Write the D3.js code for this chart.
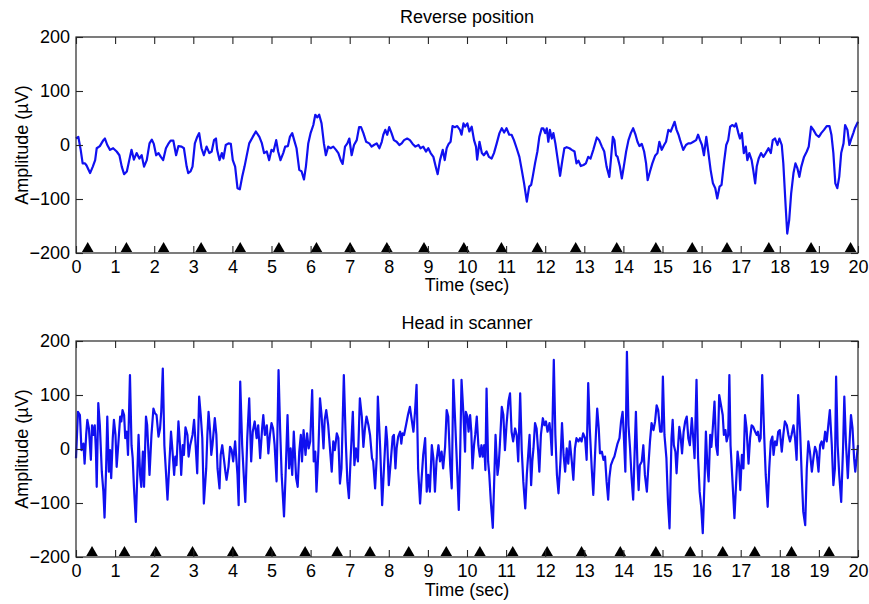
<!DOCTYPE html>
<html>
<head>
<meta charset="utf-8">
<script src="https://cdn.jsdelivr.net/npm/d3@7"></script>
<style>
  body { margin: 0; background: #fff; }
  text { font-family: "Liberation Sans", Arial, Helvetica, sans-serif; fill: #000; }
</style>
</head>
<body>
<svg id="chart" width="869" height="604"></svg>
<script>
// ---- Recording: reverse position (time in s, amplitude in µV) ----
const topTime = [0,0.06,0.12,0.17,0.23,0.27,0.36,0.43,0.49,0.53,0.61,0.70,0.74,0.80,0.87,0.95,1.04,1.11,1.17,1.23,1.30,1.38,1.42,1.48,1.55,1.62,1.68,1.74,1.81,1.88,1.94,1.99,2.05,2.11,2.17,2.23,2.30,2.36,2.42,2.49,2.56,2.62,2.70,2.76,2.83,2.87,2.93,2.98,3.04,3.10,3.15,3.21,3.27,3.34,3.41,3.47,3.53,3.58,3.61,3.67,3.73,3.77,3.83,3.90,3.96,4.01,4.07,4.13,4.19,4.25,4.31,4.36,4.43,4.52,4.60,4.69,4.75,4.81,4.88,4.94,5.00,5.05,5.12,5.17,5.23,5.30,5.35,5.42,5.47,5.53,5.58,5.64,5.71,5.77,5.83,5.88,5.94,6.00,6.07,6.12,6.17,6.22,6.28,6.34,6.39,6.45,6.51,6.58,6.65,6.71,
  6.77,6.82,6.88,6.94,6.99,7.05,7.11,7.18,7.24,7.29,7.35,7.42,7.50,7.56,7.62,7.69,7.76,7.82,7.86,7.91,7.96,8.01,8.07,8.13,8.20,8.27,8.33,8.39,8.47,8.54,8.61,8.68,8.76,8.81,8.88,8.95,9.01,9.07,9.14,9.21,9.25,9.31,9.38,9.43,9.48,9.53,9.58,9.63,9.69,9.75,9.82,9.86,9.91,9.95,10.01,10.06,10.12,10.18,10.23,10.26,10.32,10.38,10.43,10.50,10.56,10.63,10.69,10.76,10.83,10.89,10.95,11.01,11.08,11.14,11.20,11.27,11.34,11.40,11.46,11.53,11.59,11.64,11.68,11.74,11.80,11.85,11.91,11.95,12.00,12.04,12.08,12.12,12.17,12.21,12.26,12.31,12.38,12.44,12.49,12.55,12.62,12.68,12.75,12.80,12.85,12.91,12.98,13.04,13.10,13.16,13.23,13.32,13.38,13.45,13.51,13.57,13.64,
  13.68,13.73,13.77,13.81,13.85,13.91,13.96,14.01,14.07,14.13,14.19,14.25,14.31,14.36,14.41,14.47,14.53,14.58,14.62,14.68,14.74,14.81,14.87,14.92,14.98,15.04,15.09,15.15,15.21,15.26,15.31,15.36,15.41,15.45,15.49,15.53,15.60,15.66,15.72,15.79,15.86,15.91,15.96,16.01,16.06,16.12,16.17,16.23,16.29,16.35,16.40,16.46,16.51,16.57,16.63,16.68,16.73,16.79,16.84,16.88,16.94,16.98,17.03,17.08,17.13,17.17,17.22,17.28,17.32,17.37,17.41,17.46,17.52,17.58,17.64,17.71,17.77,17.82,17.88,17.94,17.99,18.05,18.09,18.15,18.19,18.24,18.29,18.35,18.40,18.45,18.50,18.55,18.62,18.69,18.74,18.80,18.86,18.93,19.00,19.06,19.13,19.20,19.27,19.32,19.37,19.42,19.47,19.52,19.57,19.63,19.67,19.73,19.78,19.83,19.88,19.92,20.00];
const topAmp = [12,15,-9,-34,-34,-38,-52,-40,-28,-6,-2,9,12,0,-9,-6,-12,-19,-40,-54,-49,-22,-9,-27,-15,-25,-19,-40,-28,3,10,2,-19,-15,-22,-28,-6,2,8,8,-19,-2,-3,-6,-40,-52,-49,-40,3,15,22,-6,-19,-3,-15,-12,9,12,-9,-28,-15,-25,0,3,2,-28,-40,-80,-82,-59,-40,-22,3,15,25,15,4,-15,-12,-28,-9,-12,9,-12,-28,-15,-3,-2,15,22,9,-6,-46,-49,-64,-40,3,22,37,56,51,56,40,3,-19,-3,-6,-3,-9,-15,
  -28,-35,-3,3,12,-19,0,9,33,33,22,6,3,-3,0,3,-6,6,19,28,19,33,22,9,6,0,3,9,12,9,2,-3,0,-6,-3,-12,-6,-15,-22,-43,-54,-28,-9,-28,-6,2,6,35,33,35,28,19,40,34,40,25,34,9,-3,-27,6,-15,-19,-12,-22,-25,-15,3,22,31,23,31,19,19,9,-6,-22,-46,-71,-105,-77,-74,-59,-34,-12,15,31,31,22,31,6,28,12,22,3,-22,-57,-28,-6,-4,-6,-9,-12,-34,-29,-39,-37,-34,-22,-25,-9,14,9,-3,-12,-40,-59,
  -28,15,9,-19,-22,-40,-62,-40,-12,9,22,31,19,6,-2,2,-12,-34,-65,-49,-34,-20,-15,6,-9,0,6,28,25,34,43,28,19,9,0,-9,0,3,3,6,9,19,9,0,-19,15,-12,-46,-71,-80,-99,-77,-74,-34,0,9,34,37,34,40,22,12,22,-15,-3,-28,-15,-28,-46,-71,-40,-25,-15,-22,-15,-6,-15,9,12,0,12,0,-34,-114,-164,-139,-90,-52,-34,-43,-59,-40,-22,-12,-3,34,28,19,15,22,28,35,35,19,-15,-71,-80,-59,-15,3,37,28,0,12,22,31,43];
const topMarkers = [0.30,1.29,2.24,3.20,4.20,5.19,6.15,7.01,7.95,8.90,9.92,10.88,11.80,12.78,13.83,14.83,15.76,16.65,17.72,18.80,19.81];

// ---- Recording: head in scanner ----
const bottomTime = [0,0.05,0.10,0.14,0.19,0.22,0.26,0.29,0.33,0.38,0.41,0.44,0.48,0.51,0.53,0.57,0.61,0.66,0.70,0.73,0.77,0.80,0.84,0.87,0.90,0.94,0.97,1.01,1.04,1.08,1.13,1.16,1.19,1.23,1.26,1.30,1.33,1.38,1.42,1.45,1.48,1.53,1.57,1.60,1.64,1.67,1.71,1.74,1.79,1.82,1.88,1.93,1.98,2.02,2.06,2.11,2.15,2.18,2.22,2.26,2.30,2.34,2.39,2.43,2.46,2.51,2.54,2.57,2.62,2.66,2.69,2.73,2.76,2.80,2.85,2.88,2.92,2.98,3.02,3.05,3.10,3.15,3.19,3.23,3.27,
  3.33,3.36,3.39,3.43,3.46,3.49,3.55,3.59,3.62,3.67,3.70,3.74,3.79,3.82,3.85,3.90,3.94,3.98,4.02,4.07,4.13,4.16,4.20,4.25,4.29,4.33,4.38,4.43,4.48,4.52,4.57,4.62,4.66,4.71,4.76,4.79,4.83,4.88,4.92,4.96,5.00,5.04,5.08,5.13,5.18,5.22,5.26,5.32,5.36,5.41,5.45,5.49,5.53,5.57,5.63,5.67,5.71,5.75,5.78,5.82,5.87,5.91,5.95,5.99,6.04,6.08,6.12,6.15,6.20,6.24,6.28,6.33,6.36,6.40,6.45,
  6.54,6.58,6.62,6.67,6.71,6.75,6.79,6.85,6.90,6.94,6.98,7.02,7.08,7.12,7.16,7.21,7.26,7.31,7.35,7.39,7.43,7.48,7.52,7.57,7.60,7.65,7.69,7.72,7.78,7.83,7.88,7.93,7.96,8.00,8.05,8.10,8.13,8.17,8.20,8.24,8.29,8.32,8.35,8.39,8.44,8.49,8.54,8.58,8.63,8.67,8.71,8.75,8.80,8.84,8.88,8.93,8.97,9.01,9.05,9.10,9.14,9.18,9.22,9.27,9.31,9.35,9.39,9.44,9.48,9.52,9.57,9.61,9.65,9.69,9.74,9.79,9.82,
  9.86,9.91,9.95,9.97,10.01,10.04,10.08,10.11,10.14,10.18,10.21,10.25,10.29,10.33,10.37,10.40,10.44,10.47,10.50,10.54,10.57,10.61,10.66,10.70,10.73,10.78,10.81,10.84,10.89,10.93,10.97,11.01,11.06,11.10,11.14,11.18,11.23,11.27,11.31,11.36,11.40,11.44,11.49,11.53,11.57,11.60,11.64,11.67,11.70,11.74,11.78,11.82,11.85,11.89,11.94,11.98,12.02,12.06,12.11,12.14,12.17,12.22,12.26,12.30,12.34,12.39,12.43,12.47,12.51,12.55,12.59,12.63,12.68,12.72,12.76,12.80,12.85,12.89,12.93,12.97,13.02,13.06,13.10,13.14,13.19,13.23,
  13.30,13.33,13.37,13.40,13.45,13.49,13.53,13.57,13.61,13.64,13.68,13.73,13.77,13.81,13.85,13.90,13.94,13.98,14.01,14.05,14.09,14.13,14.17,14.21,14.25,14.29,14.32,14.36,14.39,14.42,14.47,14.51,14.55,14.60,14.64,14.68,14.72,14.77,14.81,14.85,14.89,14.94,14.98,15.01,15.05,15.10,15.14,15.18,15.23,15.26,15.29,15.33,15.36,15.40,15.43,15.46,15.50,15.54,15.58,15.62,15.66,15.70,15.75,15.78,15.82,15.87,15.91,15.95,15.99,16.03,16.08,16.11,16.15,16.18,16.22,16.25,16.28,16.33,16.37,16.41,16.45,
  16.54,16.57,16.61,16.64,16.68,16.71,16.74,16.79,16.84,16.88,16.92,16.96,16.99,17.03,17.07,17.11,17.15,17.20,17.24,17.28,17.32,17.37,17.41,17.44,17.48,17.51,17.55,17.60,17.64,17.69,17.73,17.77,17.81,17.84,17.88,17.92,17.96,18.00,18.05,18.09,18.13,18.18,18.22,18.26,18.30,18.35,18.39,18.43,18.47,18.52,18.56,18.60,18.65,18.69,18.73,18.77,18.82,18.86,18.90,18.94,18.99,19.03,19.07,19.11,19.16,19.20,19.24,19.28,19.33,19.37,19.41,19.44,19.48,19.52,19.57,19.62,19.65,19.69,19.74,19.78,19.82,19.86,19.90,19.93,20.00];
const bottomAmp = [-17,69,63,-2,10,-27,26,54,38,-20,44,26,44,-5,-70,85,44,-42,-79,-127,-36,60,-42,-2,-54,20,54,26,-33,7,60,51,72,63,20,32,-11,137,7,-17,-67,-135,-42,26,-48,-70,-5,-70,60,44,-48,26,75,66,63,23,38,69,149,7,-42,-94,-23,32,4,-48,-14,-30,51,7,-48,7,-11,40,26,-14,7,26,54,20,-45,97,63,20,-101,
  -36,26,69,32,-11,7,57,26,-36,-73,-11,7,-23,-42,-57,-33,4,-2,-23,14,-48,-104,125,7,-48,-98,20,94,-23,32,51,20,44,-17,38,63,26,44,-8,26,48,38,7,-60,146,38,-48,-125,-48,63,-36,1,-48,32,-54,-70,-5,26,-23,35,-11,29,1,14,109,-23,-5,-79,-2,94,63,1,54,72,44,
  -42,14,-2,29,20,-64,-36,137,14,-60,-91,-23,69,-30,1,-23,94,60,4,38,60,44,26,-17,-23,-73,-17,97,1,-104,-30,41,14,-67,-23,23,26,-36,1,23,32,10,29,26,44,63,78,57,32,69,119,-36,-101,-54,-11,20,-79,-48,-79,7,-17,-79,-23,7,-23,-5,-36,4,72,60,-30,-73,128,63,-23,-113,-30,
  128,63,-5,69,60,32,63,32,-36,7,26,60,7,-14,7,-14,7,-39,112,-23,-48,-98,-146,-48,26,-48,-30,7,78,63,-2,44,88,103,32,14,38,26,-23,103,-2,-60,-110,-48,-5,26,-67,-23,1,48,38,-5,-42,26,57,44,51,32,48,26,-11,165,26,-48,-82,-23,48,-11,-42,1,-27,14,-23,-57,1,20,14,20,14,29,20,-20,122,38,-36,-85,
  32,75,38,-8,-5,-20,-14,-60,-94,-54,-30,-20,-14,-2,10,20,51,69,26,-42,180,44,1,-54,-94,1,69,-30,-76,-30,-23,7,-48,-79,-30,14,48,35,51,81,72,32,32,134,26,-17,-98,-147,20,54,7,-5,-45,7,41,26,-8,32,51,60,20,7,57,26,-17,128,-17,-79,-107,-156,-48,32,-36,-60,26,4,32,88,7,-11,100,
  63,26,35,14,26,137,7,-60,-128,-67,-5,-30,-76,-11,-36,63,38,-27,20,44,41,32,26,32,14,20,137,26,-48,-107,-36,14,23,-11,14,7,32,35,-5,26,51,44,26,14,26,44,20,-20,100,32,-48,-116,-141,-36,14,-5,-42,-17,4,-5,-42,7,14,1,32,14,44,72,7,-67,-36,134,7,-48,-98,7,97,14,-54,7,63,38,-17,-42,7];
const bottomMarkers = [0.41,1.24,2.04,2.98,4.01,4.98,5.86,6.68,7.52,8.51,9.47,10.33,11.17,12.05,12.93,13.92,14.83,15.71,16.54,17.36,18.30,19.26];

// ---- Axis settings ----
const xTickValues = d3.range(0, 21);          // 0 … 20 s
const yTickValues = [-200, -100, 0, 100, 200]; // µV
const xDomain = [0, 20];
const yDomain = [-200, 200];
const markerLevel = -192;                      // triangle row near the bottom of each panel

const panels = [
  { title: "Reverse position", top: 37,  bottom: 253, titleY: 23,  xLabelY: 291, time: topTime, amp: topAmp, markers: topMarkers },
  { title: "Head in scanner",  top: 341, bottom: 557, titleY: 329, xLabelY: 596, time: bottomTime, amp: bottomAmp, markers: bottomMarkers }
];

const svg = d3.select("#chart");
const left = 76, right = 858;
const fontSize = 18;
const axisColor = "#262626";
const traceColor = "#1010f0";

const x = d3.scaleLinear().domain(xDomain).range([left, right]);

function styleAxis(sel, showLabels) {
  sel.select(".domain").remove();
  sel.selectAll(".tick line").attr("stroke", axisColor).attr("stroke-width", 1.1);
  sel.selectAll(".tick text")
    .attr("font-size", fontSize)
    .attr("font-family", "\"Liberation Sans\", Arial, sans-serif")
    .attr("fill", "#000");
  if (!showLabels) sel.selectAll(".tick text").remove();
}

panels.forEach(p => {
  const y = d3.scaleLinear().domain(yDomain).range([p.bottom, p.top]);
  const g = svg.append("g");

  // signal trace
  const pts = d3.zip(p.time, p.amp);
  g.append("path")
    .datum(pts)
    .attr("fill", "none")
    .attr("stroke", traceColor)
    .attr("stroke-width", 2.2)
    .attr("stroke-linejoin", "round")
    .attr("d", d3.line().x(d => x(d[0])).y(d => y(d[1])));

  // event markers
  g.selectAll("path.marker")
    .data(p.markers)
    .join("path")
    .attr("class", "marker")
    .attr("d", d3.symbol(d3.symbolTriangle, 58))
    .attr("fill", "#000")
    .attr("transform", d => `translate(${x(d)},${y(markerLevel)})`);

  // ticks on all four sides, pointing inward
  g.append("g").attr("transform", `translate(0,${p.bottom})`)
    .call(d3.axisBottom(x).tickValues(xTickValues).tickFormat(d3.format("d")).tickSize(-7).tickPadding(7))
    .call(s => styleAxis(s, true));
  g.append("g").attr("transform", `translate(0,${p.top})`)
    .call(d3.axisTop(x).tickValues(xTickValues).tickSize(-7))
    .call(s => styleAxis(s, false));
  g.append("g").attr("transform", `translate(${left},0)`)
    .call(d3.axisLeft(y).tickValues(yTickValues).tickFormat(d3.format("d")).tickSize(-7).tickPadding(6))
    .call(s => styleAxis(s, true));
  g.append("g").attr("transform", `translate(${right},0)`)
    .call(d3.axisRight(y).tickValues(yTickValues).tickSize(-7))
    .call(s => styleAxis(s, false));

  // box
  g.append("rect")
    .attr("x", left).attr("y", p.top)
    .attr("width", right - left).attr("height", p.bottom - p.top)
    .attr("fill", "none").attr("stroke", axisColor).attr("stroke-width", 1.2);

  // title and axis labels
  g.append("text")
    .attr("x", (left + right) / 2).attr("y", p.titleY)
    .attr("text-anchor", "middle").attr("font-size", fontSize)
    .text(p.title);
  g.append("text")
    .attr("x", (left + right) / 2).attr("y", p.xLabelY)
    .attr("text-anchor", "middle").attr("font-size", fontSize)
    .text("Time (sec)");
  g.append("text")
    .attr("transform", `translate(28,${(p.top + p.bottom) / 2}) rotate(-90)`)
    .attr("text-anchor", "middle").attr("font-size", fontSize)
    .text("Amplitude (µV)");
});
</script>
</body>
</html>
